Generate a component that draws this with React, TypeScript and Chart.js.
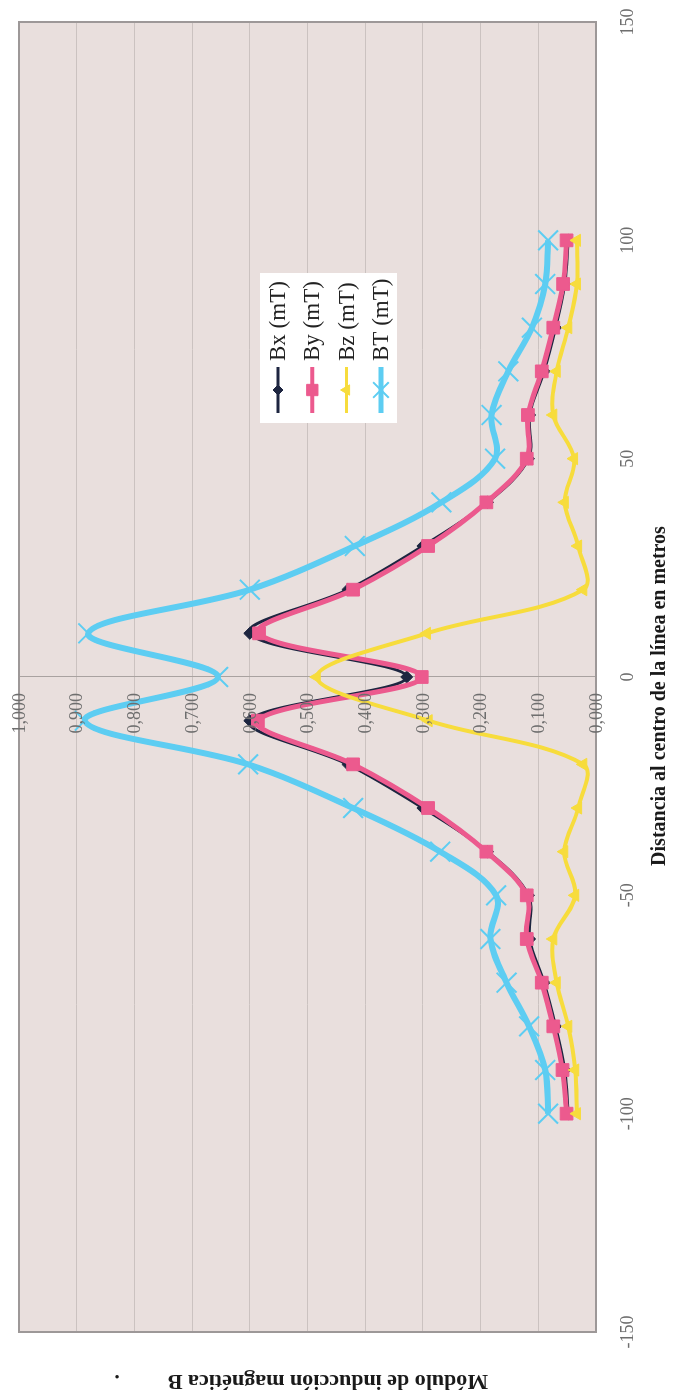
import React, { useEffect, useRef } from 'react';
import { Chart, registerables } from 'chart.js';
import { drawPoint } from 'chart.js/helpers';

Chart.register(...registerables);

// Unrotated chart size (the page shows it turned 90° counter-clockwise)
const W = 1396;
const H = 675;

const distances = [-100, -90, -80, -70, -60, -50, -40, -30, -20, -10, 0, 10, 20, 30, 40, 50, 60, 70, 80, 90, 100];
const bxValues = [0.048, 0.054, 0.070, 0.090, 0.115, 0.117, 0.188, 0.300, 0.430, 0.600, 0.328, 0.600, 0.430, 0.300, 0.188, 0.117, 0.115, 0.090, 0.070, 0.054, 0.048];
const byValues = [0.051, 0.058, 0.074, 0.094, 0.120, 0.120, 0.190, 0.291, 0.421, 0.586, 0.302, 0.584, 0.421, 0.291, 0.190, 0.120, 0.118, 0.094, 0.074, 0.057, 0.051];
const bzValues = [0.033, 0.036, 0.048, 0.068, 0.074, 0.036, 0.055, 0.031, 0.022, 0.290, 0.484, 0.293, 0.022, 0.031, 0.054, 0.038, 0.074, 0.068, 0.048, 0.033, 0.033];
const btValues = [0.083, 0.088, 0.116, 0.155, 0.183, 0.173, 0.270, 0.421, 0.603, 0.886, 0.655, 0.880, 0.600, 0.418, 0.268, 0.175, 0.181, 0.152, 0.111, 0.088, 0.083];

const seriesLabels = ['Bx (mT)', 'By (mT)', 'Bz (mT)', 'BT (mT)'];
const xTickValues = [-150, -100, -50, 0, 50, 100, 150];
const yTickValues = [0, 0.1, 0.2, 0.3, 0.4, 0.5, 0.6, 0.7, 0.8, 0.9, 1.0];

const xTitle = 'Distancia al centro de la línea en metros';
const yTitle = 'Módulo de inducción magnética B';

const SERIF = '"Liberation Serif", "DejaVu Serif", serif';
const PLOT_BG = '#e9dfdd';
const GRID = '#cbc2c0';
const CLEAR = 'rgba(0,0,0,0)';
const TICK_COLOR = '#6e6e6e';

const styles = [
  { color: '#1d2540', width: 3, point: 'rectRot', radius: 6, pbw: 1, order: 4 },
  { color: '#ec5a8e', width: 5, point: 'rect', radius: 9, pbw: 1, order: 3 },
  { color: '#f7dc3c', width: 4, point: 'triangle', radius: 7, pbw: 1, order: 2 },
  { color: '#5dcdf2', width: 6, point: 'crossRot', radius: 14, pbw: 2, order: 1 },
];

const seriesValues = [bxValues, byValues, bzValues, btValues];

const formatY = (v: number) => v.toFixed(3).replace('.', ',');

const decoPlugin = {
  id: 'deco',
  beforeDraw(chart: any) {
    const { ctx, chartArea: a } = chart;
    ctx.save();
    ctx.fillStyle = '#ffffff';
    ctx.fillRect(0, 0, chart.width, chart.height);
    ctx.fillStyle = PLOT_BG;
    ctx.fillRect(a.left, a.top, a.right - a.left, a.bottom - a.top);
    ctx.restore();
  },
  afterDraw(chart: any) {
    const { ctx, chartArea: a } = chart;
    const xs = chart.scales.x;
    const ys = chart.scales.y;
    ctx.save();
    // plot frame
    ctx.strokeStyle = '#9d9898';
    ctx.lineWidth = 2;
    ctx.strokeRect(a.left, a.top, a.right - a.left, a.bottom - a.top);

    // y tick labels beside the axis at x = 0
    ctx.fillStyle = TICK_COLOR;
    ctx.font = `18px ${SERIF}`;
    ctx.textAlign = 'right';
    ctx.textBaseline = 'middle';
    const axisX = xs.getPixelForValue(0);
    yTickValues.forEach((v) => {
      ctx.fillText(formatY(v), axisX - 16, ys.getPixelForValue(v) + 1);
    });

    // axis titles
    ctx.fillStyle = '#1a1a1a';
    ctx.font = `bold 20px ${SERIF}`;
    ctx.textAlign = 'center';
    ctx.textBaseline = 'middle';
    ctx.fillText(xTitle, 700, 660);
    ctx.save();
    ctx.translate(15, 328);
    ctx.rotate(-Math.PI / 2);
    ctx.font = `bold 22px ${SERIF}`;
    ctx.fillText(yTitle, 0, 0);
    ctx.fillText('.', 211, 0);
    ctx.restore();

    // legend
    const lx = 973, ly = 260, lw = 150, lh = 137;
    ctx.fillStyle = '#ffffff';
    ctx.fillRect(lx, ly, lw, lh);
    chart.data.datasets.forEach((ds: any, i: number) => {
      const st = styles[i];
      const ry = ly + 18 + i * 34.3;
      ctx.strokeStyle = st.color;
      ctx.lineWidth = Math.max(3, st.width - 1);
      ctx.beginPath();
      ctx.moveTo(983, ry);
      ctx.lineTo(1029, ry);
      ctx.stroke();
      ctx.fillStyle = st.color;
      ctx.strokeStyle = st.color;
      ctx.lineWidth = st.pbw;
      drawPoint(ctx, { pointStyle: st.point, radius: st.point === 'crossRot' ? 11 : st.radius - 1, rotation: 0, borderWidth: st.pbw } as any, 1006, ry);
      ctx.fillStyle = '#222222';
      ctx.font = `23px ${SERIF}`;
      ctx.textAlign = 'left';
      ctx.textBaseline = 'middle';
      ctx.fillText(ds.label, 1035, ry + 1);
    });
    ctx.restore();
  },
};

export default function App() {
  const ref = useRef<HTMLCanvasElement>(null);

  useEffect(() => {
    if (!ref.current) return;
    const datasets = seriesLabels.map((label, i) => {
      const st = styles[i];
      return {
        label,
        data: distances.map((d, k) => ({ x: d, y: seriesValues[i][k] })),
        borderColor: st.color,
        backgroundColor: st.color,
        borderWidth: st.width,
        pointStyle: st.point,
        pointRadius: st.radius,
        pointBackgroundColor: st.color,
        pointBorderColor: st.color,
        pointBorderWidth: st.pbw,
        tension: 0.35,
        fill: false,
        order: st.order,
      };
    });

    const chart = new Chart(ref.current, {
      type: 'line',
      data: { datasets },
      options: {
        animation: false,
        responsive: false,
        devicePixelRatio: 1,
        layout: { padding: { left: 64, right: 22, top: 19, bottom: 0 } },
        plugins: {
          legend: { display: false },
          tooltip: { enabled: false },
          title: { display: false },
        },
        scales: {
          x: {
            type: 'linear',
            position: 'bottom',
            min: -150,
            max: 150,
            afterBuildTicks: (scale: any) => {
              scale.ticks = xTickValues.map((v) => ({ value: v }));
            },
            afterFit: (scale: any) => {
              scale.height = 79;
            },
            grid: { display: true, drawOnChartArea: false, drawTicks: true, tickLength: 21, tickColor: CLEAR, color: CLEAR },
            border: { display: false },
            ticks: {
              color: TICK_COLOR,
              font: { family: SERIF, size: 18 },
              padding: 0,
              maxRotation: 0,
              autoSkip: false,
              callback: (v: any) => String(v),
            },
          },
          y: {
            type: 'linear',
            position: { x: 0 } as any,
            min: 0,
            max: 1,
            afterBuildTicks: (scale: any) => {
              scale.ticks = yTickValues.map((v) => ({ value: v }));
            },
            grid: { display: true, color: GRID, lineWidth: 1, drawTicks: false },
            border: { display: true, color: '#a9a2a0', width: 1 },
            ticks: {
              display: false,
              padding: 0,
              autoSkip: false,
              callback: (v: any) => formatY(Number(v)),
            },
          },
        },
      },
      plugins: [decoPlugin],
    } as any);

    return () => chart.destroy();
  }, []);

  return (
    <div
      style={{
        position: 'fixed',
        left: 0,
        top: 0,
        width: W,
        height: H,
        transformOrigin: '0 0',
        transform: `translate(0px, ${W}px) rotate(-90deg)`,
        background: '#ffffff',
      }}
    >
      <canvas ref={ref} width={W} height={H} style={{ display: 'block', width: W, height: H }} />
    </div>
  );
}
